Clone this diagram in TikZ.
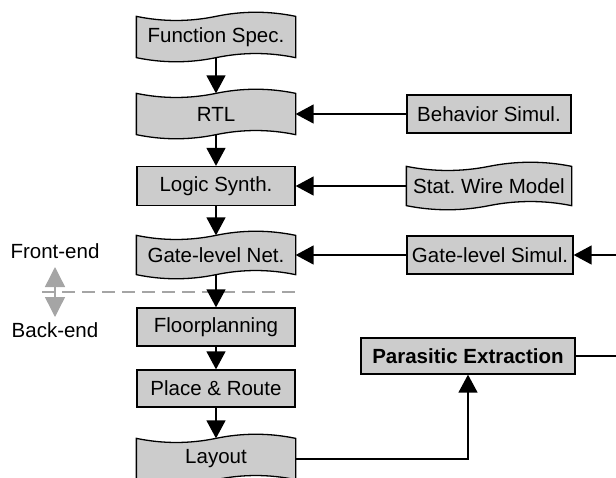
\documentclass[tikz,border=0pt]{standalone}
\usepackage{fontspec}
\setmainfont{Liberation Sans}
\usetikzlibrary{arrows.meta,calc,backgrounds,graphs}
\definecolor{boxgray}{RGB}{204,204,204}
\definecolor{linegray}{RGB}{165,165,165}
\newcommand\wamp{5.5}
\newcommand\wavyshape[1]{%
	\path[wavyfill] (#1.north west)
	.. controls ($(#1.north west)!1/6!(#1.north east)+(0,\wamp)$) and ($(#1.north west)!2/6!(#1.north east)+(0,\wamp)$) .. (#1.north)
	.. controls ($(#1.north west)!4/6!(#1.north east)-(0,\wamp)$) and ($(#1.north west)!5/6!(#1.north east)-(0,\wamp)$) .. (#1.north east)
	-- (#1.south east)
	.. controls ($(#1.south west)!5/6!(#1.south east)-(0,\wamp)$) and ($(#1.south west)!4/6!(#1.south east)-(0,\wamp)$) .. (#1.south)
	.. controls ($(#1.south west)!2/6!(#1.south east)+(0,\wamp)$) and ($(#1.south west)!1/6!(#1.south east)+(0,\wamp)$) .. (#1.south west)
	-- cycle;}

\begin{document}
\begin{tikzpicture}[x=1pt, y=-1pt,
	box/.style={draw, fill=boxgray, line width=1.3pt, inner sep=0pt, font=\fontsize{20.5}{24}\selectfont},
	wavy/.style={box, draw=none, fill=none},
	wavyfill/.style={draw, fill=boxgray, line width=1.3pt},
	note/.style={font=\fontsize{20.5}{24}\selectfont},
	flow/.style={line width=1.4pt, >={Triangle[length=18pt,width=19pt]}},
	split/.style={draw=linegray, line width=1.4pt, dash pattern=on 13pt off 7pt},
	febe/.style={draw=linegray, line width=1.4pt, {Triangle[length=20pt,width=20pt]}-{Triangle[length=20pt,width=20pt]}}]
	\useasboundingbox (0,0) rectangle (616,477);
	
	%Hovedkolonnen
	\node[wavy, minimum width=158pt, minimum height=40pt] (fs) at (216,37) {Function Spec.};
	\node[wavy, minimum width=158pt, minimum height=40pt] (rtl) at (216,114) {RTL};
	\node[box, minimum width=158pt, minimum height=39pt] (ls) at (216,186) {Logic Synth.};
	\node[wavy, minimum width=158pt, minimum height=38pt] (gln) at (216,255) {Gate-level Net.};
	\node[box, minimum width=158pt, minimum height=38pt] (fp) at (216,327) {Floorplanning};
	\node[box, minimum width=158pt, minimum height=37pt] (pr) at (216,388.5) {Place \& Route};
	\node[wavy, minimum width=158pt, minimum height=40pt] (lay) at (216,459) {Layout};
	
	%Sidekolonnen
	\node[box, minimum width=164pt, minimum height=38pt] (bs) at (489,114) {Behavior Simul.};
	\node[wavy, minimum width=164pt, minimum height=38pt] (swm) at (489,186) {Stat.\ Wire Model};
	\node[box, minimum width=166pt, minimum height=38pt] (gs) at (490,255) {Gate-level Simul.};
	\node[box, minimum width=214pt, minimum height=36pt, font=\fontsize{20.5}{24}\selectfont\bfseries] (pe) at (468,356) {Parasitic Extraction};
	
	%Front-end / back-end
	\node[note] (fe) at (55,251) {Front-end};
	\node[note] (be) at (55,330) {Back-end};
	\coordinate (fe-tip) at (55,267);
	\coordinate (be-tip) at (55,317);
	\coordinate (split-l) at (42,292);
	\coordinate (split-r) at (295,292);
	\coordinate (gs-in) at (616,255);
	\coordinate (pe-out) at (616,356);
	
	\begin{scope}[on background layer]
		\wavyshape{fs}
		\wavyshape{rtl}
		\wavyshape{gln}
		\wavyshape{lay}
		\wavyshape{swm}
	\end{scope}
	
	%Kantene
	\draw[split] (split-l) -- (split-r);
	\draw[febe] (fe-tip) -- (be-tip);
	\begin{scope}[flow]
		\graph {
			(fs) -> (rtl) -> (ls) -> (gln) -> (fp) -> (pr) -> (lay);
			(bs) -> (rtl);
			(swm) -> (ls);
			(gs) -> (gln);
		};
		\draw[->] (gs-in) -- (gs);
		\draw[->] (lay) -| (pe);
		\draw (pe) -- (pe-out);
	\end{scope}
\end{tikzpicture}
\end{document}
